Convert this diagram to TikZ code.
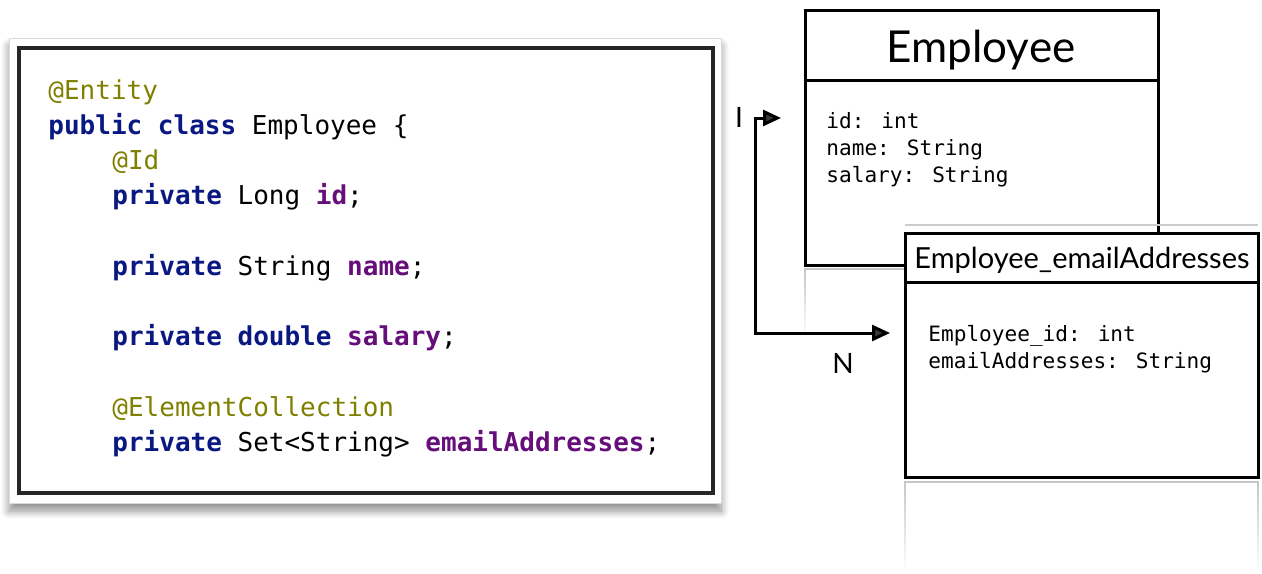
\documentclass[tikz,border=0pt]{standalone}
\usepackage{fontspec}
\usepackage{xcolor}
\usetikzlibrary{arrows.meta, shadows.blur, fadings}

\newfontfamily\codefont{DejaVu Sans Mono}
\newfontfamily\gillfont{Lato}

\definecolor{annot}{RGB}{128,128,0}
\definecolor{kwblue}{RGB}{10,25,130}
\definecolor{fieldpurple}{RGB}{102,14,122}

\newcommand{\kw}[1]{{\bfseries\color{kwblue}#1}}
\newcommand{\fld}[1]{{\bfseries\color{fieldpurple}#1}}
\newcommand{\ann}[1]{{\color{annot}#1}}

\tikzset{
  codeline/.style={anchor=base west, inner sep=0pt, font=\fontsize{13}{15}\selectfont\codefont},
  attrline/.style={anchor=base west, inner sep=0pt, font=\fontsize{10.55}{13}\selectfont\codefont},
  tabletitle/.style={anchor=base, inner sep=0pt, font=\gillfont},
  tablebox/.style={draw=black, line width=1.5pt, fill=white},
  mult/.style={anchor=base, inner sep=0pt, font=\fontsize{14}{16}\selectfont\gillfont},
  mirror/.style={draw=gray!45, line width=0.8pt, path fading=south},
}

\begin{document}
\begin{tikzpicture}[x=0.5pt, y=-0.5pt]
    \useasboundingbox (0,0) rectangle (1262,573);

    % Java source panel
    \fill[white, draw=gray!30, blur shadow={shadow blur steps=10, shadow xshift=0pt, shadow yshift=-4pt, shadow opacity=45, shadow blur radius=4pt}] (9,38) rectangle (721,503);
    \draw[line width=1.6pt, black!85] (19,48) rectangle (713,493);

    \node[codeline] (entityAnn) at (48,99)  {\ann{@Entity}};
    \node[codeline] (classDecl) at (48,134) {\kw{public class} Employee \{};
    \node[codeline] (idAnn)     at (112,169) {\ann{@Id}};
    \node[codeline] (idField)   at (112,204) {\kw{private} Long \fld{id};};
    \node[codeline] (nameField) at (112,275) {\kw{private} String \fld{name};};
    \node[codeline] (salField)  at (112,345) {\kw{private double} \fld{salary};};
    \node[codeline] (collAnn)   at (112,416) {\ann{@ElementCollection}};
    \node[codeline] (mailField) at (112,451) {\kw{private} Set<String> \fld{emailAddresses};};

    % Employee table
    \draw[tablebox] (805,10) rectangle (1158,265);
    \draw[line width=1.5pt] (805,80) -- (1158,80);
    \draw[mirror] (805,335) -- (805,269) -- (905,269);
    \node[tabletitle, font=\fontsize{22}{26}\selectfont\gillfont] (empTitle) at (981,62) {Employee};
    \node[attrline] (empId)   at (826,128) {id: int};
    \node[attrline] (empName) at (826,155) {name: String};
    \node[attrline] (empSal)  at (826,182) {salary: String};

    % Employee_emailAddresses table
    \draw[gray!40, line width=0.6pt] (905,225) -- (1258,225);
    \draw[tablebox] (905,233) rectangle (1258,477);
    \draw[line width=1.5pt] (905,282) -- (1258,282);
    \draw[mirror] (905,573) -- (905,482) -- (1258,482) -- (1258,573);
    \node[tabletitle, font=\fontsize{14.5}{16}\selectfont\gillfont] (mailTitle) at (1082,268) {Employee\_emailAddresses};
    \node[attrline] (mailEmpId) at (928,341) {Employee\_id: int};
    \node[attrline] (mailAddr)  at (928,368) {emailAddresses: String};

    % one-to-many link
    \coordinate (oneEnd)  at (781,118);
    \coordinate (manyEnd) at (890,333);
    \draw[line width=1.5pt, {Triangle[length=9pt,width=8pt]}-{Triangle[length=9pt,width=8pt]}]
          (oneEnd) -- ++(-26,0) |- (manyEnd);
    \node[mult] (oneLbl)  at (739,127) {I};
    \node[mult] (manyLbl) at (843,373) {N};

\end{tikzpicture}
\end{document}
